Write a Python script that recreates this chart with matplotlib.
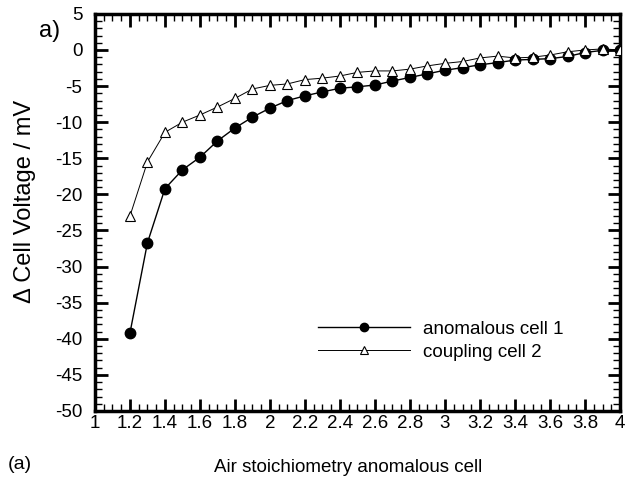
import matplotlib.pyplot as plt
from matplotlib.ticker import MultipleLocator, FormatStrFormatter

plt.rcParams['font.family'] = ['Liberation Sans', 'DejaVu Sans']
plt.rcParams['axes.unicode_minus'] = False

# Luftstoechiometrie der anomalen Zelle
stoich = [1.2, 1.3, 1.4, 1.5, 1.6, 1.7, 1.8, 1.9, 2.0, 2.1, 2.2, 2.3, 2.4, 2.5, 2.6,
          2.7, 2.8, 2.9, 3.0, 3.1, 3.2, 3.3, 3.4, 3.5, 3.6, 3.7, 3.8, 3.9, 4.0]

# Spannungsaenderung in mV
anomalous = [-39.2, -26.7, -19.2, -16.6, -14.85, -12.6, -10.8, -9.3, -8.05, -7.0,
             -6.35, -5.8, -5.3, -5.1, -4.85, -4.3, -3.8, -3.3, -2.8, -2.45, -2.05,
             -1.75, -1.4, -1.3, -1.2, -0.9, -0.35, -0.05, 0.0]
coupling = [-23.0, -15.5, -11.4, -10.0, -9.0, -7.9, -6.7, -5.4, -4.9, -4.7, -4.1,
            -3.9, -3.6, -3.1, -2.9, -2.9, -2.65, -2.2, -1.85, -1.6, -1.1, -0.85,
            -1.1, -1.0, -0.7, -0.25, 0.0, 0.15, 0.0]

fig = plt.figure(figsize=(6.33, 4.79), dpi=100)
ax = fig.add_axes([0.150, 0.142, 0.8295, 0.829])

ax.plot(stoich, anomalous, color='black', lw=1.0, marker='o', markersize=7.5,
        markerfacecolor='black', markeredgecolor='black', label='anomalous cell 1',
        zorder=3)
ax.plot(stoich, coupling, color='black', lw=0.7, marker='^', markersize=7.5,
        markerfacecolor='white', markeredgecolor='black', markeredgewidth=0.8,
        label='coupling cell 2', zorder=4)

ax.set_xlim(1, 4)
ax.set_ylim(-50, 5)
ax.xaxis.set_major_locator(MultipleLocator(0.2))
ax.xaxis.set_minor_locator(MultipleLocator(0.05))
ax.yaxis.set_major_locator(MultipleLocator(5))
ax.yaxis.set_minor_locator(MultipleLocator(1))
ax.xaxis.set_major_formatter(FormatStrFormatter('%g'))

ax.tick_params(which='both', direction='in', top=True, right=True,
               labelsize=13.5)
ax.tick_params(axis='y', pad=9)
ax.tick_params(axis='x', pad=3)
ax.tick_params(which='major', length=9, width=2)
ax.tick_params(which='minor', length=5, width=1)
for s in ax.spines.values():
    s.set_linewidth(2.5)

ax.set_ylabel('Δ Cell Voltage / mV', fontsize=17, labelpad=14, y=0.528)
ax.set_xlabel('Air stoichiometry anomalous cell', fontsize=13.5, labelpad=19,
              x=0.482)

fig.text(0.062, 0.935, 'a)', fontsize=17, ha='left', va='center')
fig.text(0.013, 0.031, '(a)', fontsize=14, ha='left', va='center')

leg = ax.legend(loc='upper left', bbox_to_anchor=(0.392, 0.27), frameon=False,
                fontsize=13.5, handlelength=4.9, handletextpad=0.7,
                labelspacing=0.3, markerscale=0.8)

fig.savefig('out.png', dpi=100)
